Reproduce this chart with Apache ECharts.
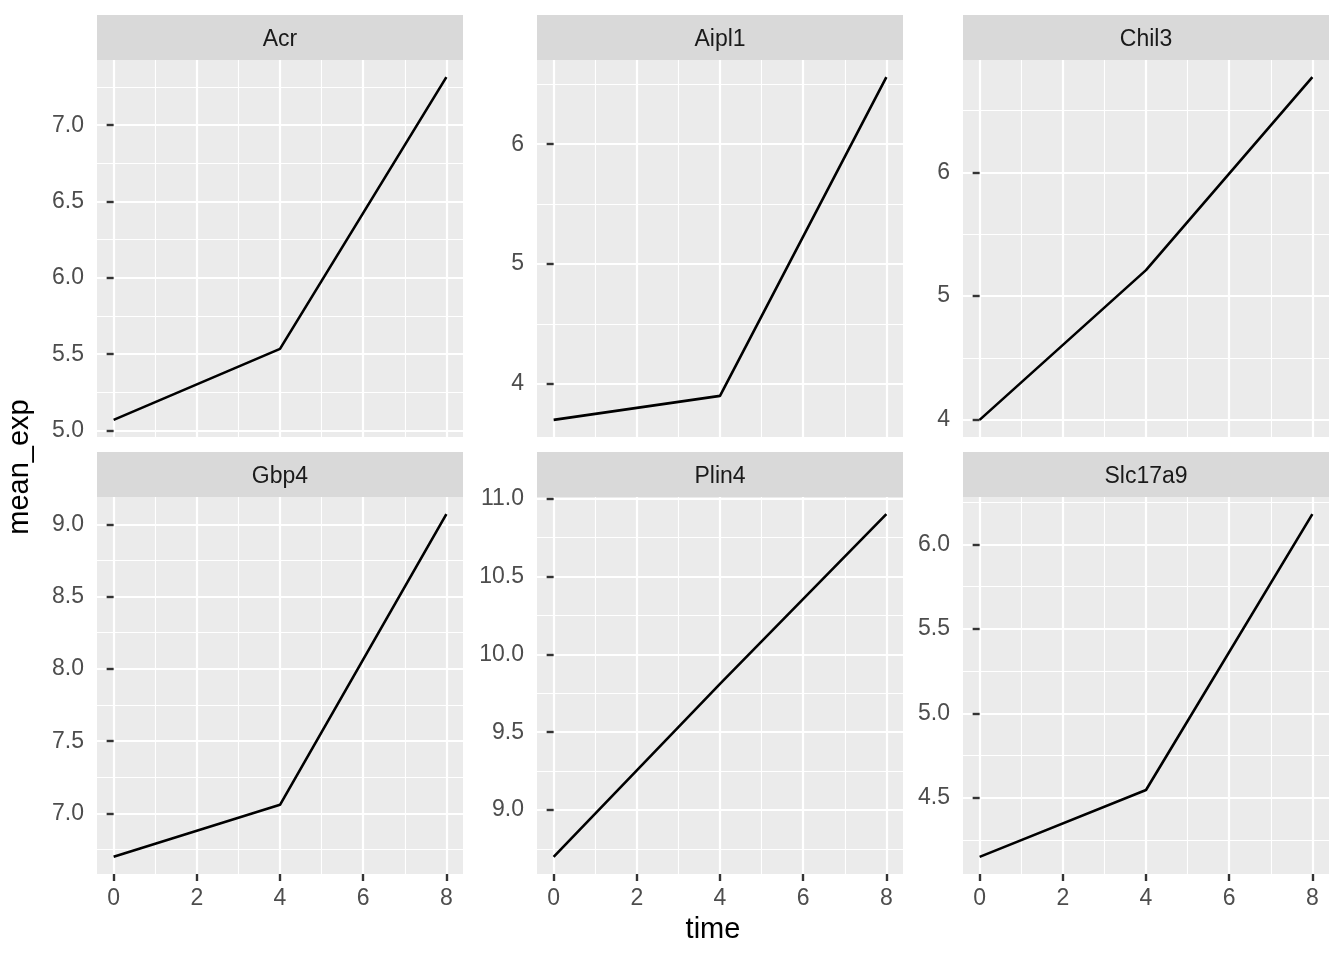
<!DOCTYPE html>
<html><head><meta charset="utf-8">
<script src="https://cdn.jsdelivr.net/npm/echarts@6/dist/echarts.min.js"></script>
<style>html,body{margin:0;padding:0;background:#fff}#c{width:1344px;height:960px}</style>
</head><body><div id="c"></div>
<script>
// ---- data ----
const genes = ['Acr', 'Aipl1', 'Chil3', 'Gbp4', 'Plin4', 'Slc17a9'];
const times = [0, 4, 8];
const acr = [5.07, 5.535, 7.315];
const aipl1 = [3.70, 3.90, 6.56];
const chil3 = [4.00, 5.21, 6.77];
const gbp4 = [6.70, 7.06, 9.07];
const plin4 = [8.70, 9.81, 10.90];
const slc17a9 = [4.15, 4.546, 6.18];
const seriesValues = [acr, aipl1, chil3, gbp4, plin4, slc17a9];

// tick labels (major breaks) and minor breaks per panel
const acrTicks = ['5.0', '5.5', '6.0', '6.5', '7.0'];
const aipl1Ticks = ['4', '5', '6'];
const chil3Ticks = ['4', '5', '6'];
const gbp4Ticks = ['7.0', '7.5', '8.0', '8.5', '9.0'];
const plin4Ticks = ['9.0', '9.5', '10.0', '10.5', '11.0'];
const slc17a9Ticks = ['4.5', '5.0', '5.5', '6.0'];
const yTickLabels = [acrTicks, aipl1Ticks, chil3Ticks, gbp4Ticks, plin4Ticks, slc17a9Ticks];

const acrMinor = [5.25, 5.75, 6.25, 6.75, 7.25];
const aipl1Minor = [4.5, 5.5, 6.5];
const chil3Minor = [4.5, 5.5, 6.5];
const gbp4Minor = [6.75, 7.25, 7.75, 8.25, 8.75];
const plin4Minor = [8.75, 9.25, 9.75, 10.25, 10.75];
const slc17a9Minor = [4.25, 4.75, 5.25, 5.75, 6.25];
const yMinorBreaks = [acrMinor, aipl1Minor, chil3Minor, gbp4Minor, plin4Minor, slc17a9Minor];

const xTickLabels = ['0', '2', '4', '6', '8'];
const xMinorBreaks = [1, 3, 5, 7];

// ---- layout ----
const FONT = '"Liberation Sans", Arial, Helvetica, sans-serif';
const colLeft = [97, 537, 963];
const panelW = 366;
const rowTop = [60, 497];
const panelH = 377;
const stripH = 45;

function expand(arr) {
  const lo = Math.min(...arr), hi = Math.max(...arr);
  const d = (hi - lo) * 0.05;
  return [lo - d, hi + d];
}
const xr = expand(times);

const grids = [], xAxes = [], yAxes = [], series = [], graphics = [];
genes.forEach((g, k) => {
  const col = k % 3, row = Math.floor(k / 3);
  const left = colLeft[col], top = rowTop[row];
  grids.push({ left: left, top: top, width: panelW, height: panelH, show: true,
    backgroundColor: '#EBEBEB', borderWidth: 0, containLabel: false });
  const yr = expand(seriesValues[k]);
  const labels = yTickLabels[k];
  const bottom = row === 1;
  // major x
  xAxes.push({ type: 'value', gridIndex: k, min: xr[0], max: xr[1],
    axisLine: { show: false },
    axisTick: { show: bottom, length: 7, customValues: xTickLabels.map(Number),
      lineStyle: { color: '#333333', width: 2.4 } },
    axisLabel: { show: bottom, customValues: xTickLabels.map(Number), margin: 13,
      color: '#4D4D4D', fontSize: 23, fontFamily: FONT,
      formatter: v => xTickLabels.find(s => Number(s) === v) ?? '' },
    splitLine: { show: true, lineStyle: { color: '#FFFFFF', width: 2.2 } },
    z: 1 });
  // minor x
  xAxes.push({ type: 'value', gridIndex: k, min: xr[0], max: xr[1],
    axisLine: { show: false },
    axisTick: { show: false, customValues: xMinorBreaks },
    axisLabel: { show: false, customValues: xMinorBreaks },
    splitLine: { show: true, lineStyle: { color: '#FFFFFF', width: 1.1 } },
    z: 0 });
  // major y
  yAxes.push({ type: 'value', gridIndex: k, min: yr[0], max: yr[1],
    axisLine: { show: false },
    axisTick: { show: true, length: 7, customValues: labels.map(Number),
      lineStyle: { color: '#333333', width: 2.4 } },
    axisLabel: { show: true, customValues: labels.map(Number), margin: 13,
      color: '#4D4D4D', fontSize: 23, fontFamily: FONT,
      formatter: v => labels.find(s => Math.abs(Number(s) - v) < 1e-9) ?? '' },
    splitLine: { show: true, lineStyle: { color: '#FFFFFF', width: 2.2 } },
    z: 1 });
  // minor y
  yAxes.push({ type: 'value', gridIndex: k, min: yr[0], max: yr[1],
    axisLine: { show: false },
    axisTick: { show: false, customValues: yMinorBreaks[k] },
    axisLabel: { show: false, customValues: yMinorBreaks[k] },
    splitLine: { show: true, lineStyle: { color: '#FFFFFF', width: 1.1 } },
    z: 0 });
  series.push({ type: 'line', name: g, xAxisIndex: 2 * k, yAxisIndex: 2 * k,
    data: times.map((t, i) => [t, seriesValues[k][i]]),
    symbol: 'none', silent: true, z: 5,
    lineStyle: { color: '#000000', width: 2.6 } });
  // strip
  graphics.push({ type: 'rect', shape: { x: left, y: top - stripH, width: panelW, height: stripH },
    style: { fill: '#D9D9D9' }, silent: true });
  graphics.push({ type: 'text', x: left + panelW / 2, y: top - stripH / 2 + 2,
    style: { text: g, fill: '#1A1A1A', fontSize: 23, fontFamily: FONT,
      align: 'center', verticalAlign: 'middle' }, silent: true });
});

graphics.push({ type: 'text', x: 713, y: 930,
  style: { text: 'time', fill: '#000000', fontSize: 29, fontFamily: FONT,
    align: 'center', verticalAlign: 'middle' }, silent: true });
graphics.push({ type: 'text', x: 20, y: 467, rotation: Math.PI / 2,
  style: { text: 'mean_exp', fill: '#000000', fontSize: 29, fontFamily: FONT,
    align: 'center', verticalAlign: 'middle' }, silent: true });

const chart = echarts.init(document.getElementById('c'), null, { renderer: 'canvas' });
chart.setOption({
  animation: false,
  backgroundColor: '#FFFFFF',
  grid: grids, xAxis: xAxes, yAxis: yAxes, series: series,
  graphic: { elements: graphics }
});
</script>
</body></html>
